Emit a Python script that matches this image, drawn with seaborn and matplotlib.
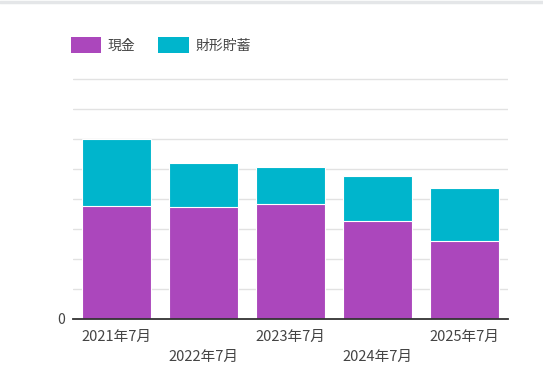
import matplotlib
matplotlib.use('Agg')
import matplotlib.pyplot as plt
from matplotlib.patches import Patch
from matplotlib.lines import Line2D
import seaborn as sns
import pandas as pd

# values (grid units, axis shows only 0)
periods = ['2021年7月', '2022年7月', '2023年7月', '2024年7月', '2025年7月']
cash = [3.78, 3.73, 3.83, 3.26, 2.61]
zaikei = [2.23, 1.48, 1.24, 1.51, 1.76]
series_names = ['現金', '財形貯蓄']
colors = ['#AB47BC', '#00B5CC']

df = pd.DataFrame({'period': periods, 'cash': cash, 'zaikei': zaikei})
df['total'] = df['cash'] + df['zaikei']

sns.set_theme(style='white')
plt.rcParams['font.family'] = ['Noto Sans CJK JP', 'DejaVu Sans']

fig = plt.figure(figsize=(5.43, 3.91), dpi=100)
ax = fig.add_axes([73 / 543, 72 / 391, 435 / 543, 241 / 391])

# stacked bars: draw totals first, cash over them
sns.barplot(data=df, x='period', y='total', color=colors[1], width=0.8,
            edgecolor='white', linewidth=0.8, saturation=1, ax=ax, zorder=3)
sns.barplot(data=df, x='period', y='cash', color=colors[0], width=0.8,
            edgecolor='white', linewidth=0.8, saturation=1, ax=ax, zorder=3)

ax.set_xlim(-0.5, 4.5)
ax.set_ylim(0, 8.03)
ax.set_yticks(range(0, 9))
ax.set_yticklabels(['0'] + [''] * 8, fontsize=10, color='#444444')
ax.yaxis.grid(True, color='#e2e2e2', linewidth=1, zorder=0)
ax.xaxis.grid(False)
ax.set_xlabel('')
ax.set_ylabel('')
for s in ['top', 'right', 'left']:
    ax.spines[s].set_visible(False)
ax.spines['bottom'].set_color('#333333')
ax.spines['bottom'].set_linewidth(1.3)
ax.spines['bottom'].set_zorder(4)
ax.tick_params(axis='both', length=0)
ax.tick_params(axis='y', pad=6)

ax.set_xticks(range(len(periods)))
ax.set_xticklabels(periods, fontsize=10.5, color='#444444')
# alternate tick labels on two rows
for i, tick in enumerate(ax.xaxis.get_major_ticks()):
    tick.set_pad(8 if i % 2 == 0 else 22)

handles = [Patch(facecolor=c, edgecolor='none') for c in colors]
fig.legend(handles, series_names, loc='upper left', bbox_to_anchor=(58 / 543, 1 - 24 / 391),
           ncol=2, frameon=False, fontsize=10, handlelength=2.2, handleheight=1.5,
           handletextpad=0.5, columnspacing=1.6, labelcolor='#444444')

# light border line at the top of the card
fig.add_artist(Line2D([0, 1], [0.995, 0.995], color='#e4e6e8', linewidth=2.5,
                      transform=fig.transFigure))

fig.savefig('out.png', dpi=100)
